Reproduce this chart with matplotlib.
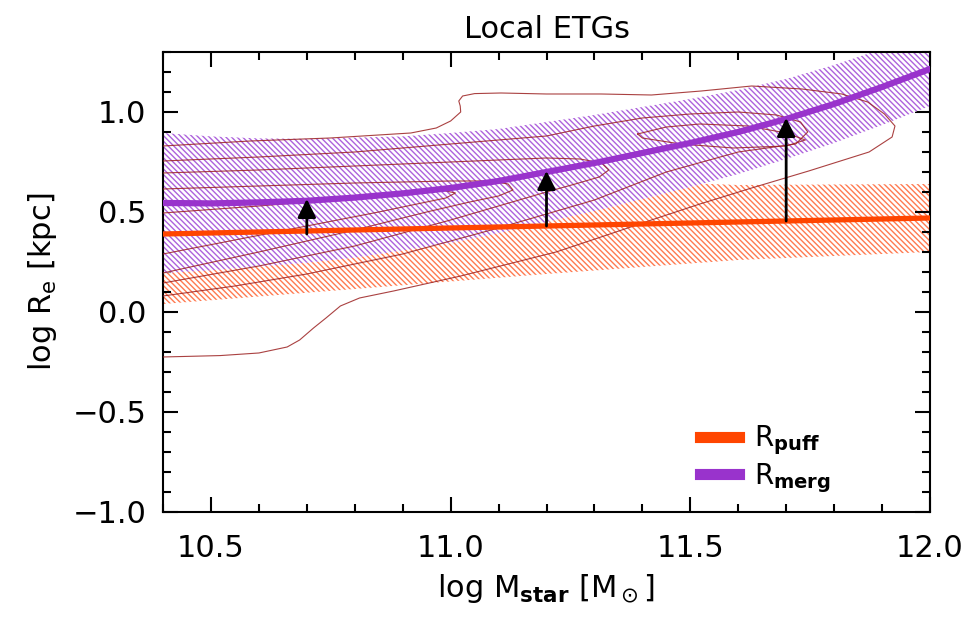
import numpy as np
import matplotlib
matplotlib.use('Agg')
from matplotlib import pyplot as plt
from matplotlib.lines import Line2D

plt.rcParams['font.family'] = ['DejaVu Sans']
plt.rcParams['mathtext.fontset'] = 'dejavusans'
plt.rcParams['hatch.linewidth'] = 1.0

# --- data ---
mass = [10.4, 10.5, 10.6, 10.7, 10.8, 10.9, 11.0, 11.1, 11.2,
        11.3, 11.4, 11.5, 11.6, 11.7, 11.8, 11.9, 12.0]
r_merg = [0.545, 0.543, 0.548, 0.556, 0.572, 0.593, 0.620, 0.655, 0.700,
          0.745, 0.795, 0.845, 0.900, 0.965, 1.040, 1.125, 1.215]
merg_upper = [0.895, 0.878, 0.868, 0.866, 0.872, 0.878, 0.895, 0.915, 0.950,
              0.985, 1.025, 1.065, 1.110, 1.165, 1.235, 1.315, 1.400]
merg_lower = [0.195, 0.208, 0.228, 0.246, 0.272, 0.308, 0.345, 0.395, 0.450,
              0.505, 0.565, 0.625, 0.690, 0.765, 0.845, 0.935, 1.030]

puff_mass = [10.4, 10.8, 11.2, 11.6, 12.0]
r_puff = [0.39, 0.41, 0.43, 0.45, 0.47]
puff_upper = [0.74, 0.70, 0.67, 0.635, 0.64]
puff_lower = [0.04, 0.115, 0.19, 0.26, 0.30]

arrow_mass = [10.7, 11.2, 11.7]
arrow_base = [0.39, 0.43, 0.455]
arrow_tip = [0.565, 0.705, 0.97]

# SDSS size-mass density contours (outer to inner), traced by hand
cont1_x = [10.4, 10.582, 10.749, 10.917, 10.97, 11.0, 11.021, 11.02, 11.017,
           11.025, 11.05, 11.105, 11.2, 11.314, 11.419, 11.523, 11.628, 11.733,
           11.816, 11.87, 11.905, 11.927, 11.921, 11.873, 11.747, 11.628, 11.52,
           11.419, 11.32, 11.22, 11.021, 10.881, 10.81, 10.77, 10.74, 10.714,
           10.685, 10.659, 10.6, 10.519, 10.4]
cont1_y = [0.83, 0.855, 0.87, 0.895, 0.92, 0.955, 1.0, 1.03, 1.055,
           1.08, 1.092, 1.095, 1.09, 1.09, 1.085, 1.105, 1.13, 1.115,
           1.09, 1.05, 0.99, 0.93, 0.875, 0.80, 0.705, 0.62, 0.54,
           0.46, 0.38, 0.30, 0.18, 0.105, 0.07, 0.03, -0.03, -0.08,
           -0.14, -0.175, -0.205, -0.218, -0.225]
cont2_x = [10.4, 10.6, 10.8, 11.0, 11.2, 11.3, 11.4, 11.5, 11.6, 11.68, 11.73,
           11.745, 11.72, 11.6, 11.45, 11.3, 11.1, 10.9, 10.7, 10.55, 10.4]
cont2_y = [0.755, 0.775, 0.80, 0.84, 0.88, 0.93, 0.97, 0.99, 1.0, 0.985, 0.95,
           0.90, 0.84, 0.80, 0.70, 0.56, 0.42, 0.29, 0.19, 0.13, 0.08]
cont3_x = [10.4, 10.6, 10.8, 11.0, 11.2, 11.27, 11.315, 11.33, 11.31, 11.26,
           11.2, 11.0, 10.8, 10.6, 10.4]
cont3_y = [0.695, 0.71, 0.73, 0.75, 0.77, 0.765, 0.745, 0.71, 0.675, 0.64,
           0.60, 0.46, 0.33, 0.23, 0.145]
cont4_x = [10.4, 10.6, 10.8, 11.0, 11.08, 11.12, 11.13, 11.1, 11.04, 10.95,
           10.8, 10.6, 10.4]
cont4_y = [0.615, 0.63, 0.645, 0.655, 0.655, 0.64, 0.61, 0.58, 0.55, 0.50,
           0.41, 0.30, 0.195]
cont5_x = [10.4, 10.6, 10.8, 10.92, 10.98, 11.01, 10.99, 10.93, 10.85, 10.7,
           10.55, 10.4]
cont5_y = [0.495, 0.53, 0.57, 0.60, 0.61, 0.595, 0.57, 0.54, 0.50, 0.43,
           0.36, 0.29]
cont6_x = [11.39, 11.45, 11.52, 11.62, 11.70, 11.74, 11.70, 11.59, 11.48, 11.40, 11.39]
cont6_y = [0.89, 0.925, 0.94, 0.93, 0.895, 0.86, 0.83, 0.82, 0.84, 0.87, 0.89]

contours = [(cont1_x, cont1_y), (cont2_x, cont2_y), (cont3_x, cont3_y),
            (cont4_x, cont4_y), (cont5_x, cont5_y), (cont6_x, cont6_y)]

purple = '#9933cc'
orange = '#ff4500'
dark_red = '#9b2020'


def fmt(v, pos):
    return ('%.1f' % v).replace('-', '\u2212')


fig = plt.figure(figsize=(9.67, 6.19), dpi=100)
ax = fig.add_axes([0.1686, 0.1729, 0.7931, 0.7431])

ax.fill_between(puff_mass, puff_lower, puff_upper, facecolor='none',
                edgecolor='#ff7a50', hatch='\\' * 6, linewidth=0, zorder=1)
ax.fill_between(mass, merg_lower, merg_upper, facecolor='white',
                edgecolor='#ad62dc', hatch='\\' * 6, linewidth=0, zorder=2)

for cx, cy in contours:
    ax.plot(cx, cy, color=dark_red, lw=0.8, alpha=0.85, zorder=3)

ax.plot(puff_mass, r_puff, color=orange, lw=3.8, zorder=4)
ax.plot(mass, r_merg, color=purple, lw=4.5, zorder=4)

for xm, y0, y1 in zip(arrow_mass, arrow_base, arrow_tip):
    ax.annotate('', xy=(xm, y1), xytext=(xm, y0),
                arrowprops=dict(arrowstyle='-|>', color='black', lw=2,
                                mutation_scale=28, shrinkA=0, shrinkB=0),
                zorder=5)

ax.set_xlim(10.4, 12.0)
ax.set_ylim(-1.0, 1.3)
ax.set_xticks([10.5, 11.0, 11.5, 12.0])
ax.set_yticks([-1.0, -0.5, 0.0, 0.5, 1.0])
ax.set_xticks(np.arange(10.4, 12.001, 0.1), minor=True)
ax.set_yticks(np.arange(-1.0, 1.301, 0.1), minor=True)
ax.xaxis.set_major_formatter(plt.FuncFormatter(fmt))
ax.yaxis.set_major_formatter(plt.FuncFormatter(fmt))
ax.tick_params(which='both', direction='in', top=True, right=True, width=1.5)
ax.tick_params(which='major', length=11, labelsize=22)
ax.tick_params(which='minor', length=5.5)
ax.tick_params(axis='x', which='major', pad=16)
ax.tick_params(axis='y', which='major', pad=12)
for s in ax.spines.values():
    s.set_linewidth(1.5)

ax.set_xlabel(r'log M$_{\bf star}$ [M$_\odot$]', fontsize=22, labelpad=6)
ax.set_ylabel(r'log R$_{\rm e}$ [kpc]', fontsize=22, labelpad=10)
ax.set_title('Local ETGs', fontsize=22, pad=10)

handles = [Line2D([], [], color=orange, lw=8), Line2D([], [], color=purple, lw=8)]
ax.legend(handles, [r'R$_{\bf puff}$', r'R$_{\bf merg}$'], loc='lower left',
          bbox_to_anchor=(0.675, -0.005), frameon=False, fontsize=20,
          handlelength=1.4, handletextpad=0.55, labelspacing=0.15,
          borderaxespad=0.3)

fig.savefig('out.png', dpi=100)
